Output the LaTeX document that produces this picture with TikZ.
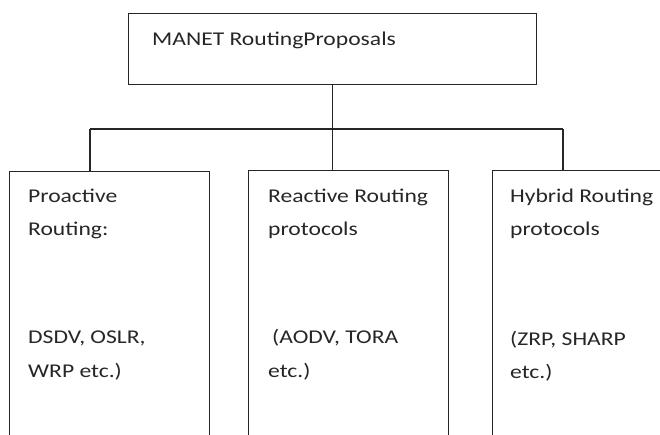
\documentclass[tikz,border=0pt]{standalone}
\usepackage{fontspec}
\setmainfont{Carlito}[FakeStretch=1.21]
\begin{document}
\begin{tikzpicture}[x=1pt,y=-1pt,
  box/.style={draw=black!85, line width=1.3pt, anchor=north west, inner sep=0pt},
  wire/.style={draw=black!85, line width=1.3pt},
  lbl/.style={anchor=base west, inner sep=0pt, font=\fontsize{19.5}{23}\selectfont, text=black!85}]
  \useasboundingbox (0,0) rectangle (660,434);
  \clip (0,0) rectangle (660,434);
  % root box and the three category boxes (run past the lower edge)
  \node[box, minimum width=408pt, minimum height=71pt] (root) at (128,13) {};
  \node[box, minimum width=200pt, minimum height=300pt] (pro) at (9,171) {};
  \node[box, minimum width=200pt, minimum height=300pt] (rea) at (248,170) {};
  \node[box, minimum width=200pt, minimum height=300pt] (hyb) at (492,170) {};
  % labels
  \node[lbl] (t0) at (152,45) {MANET RoutingProposals};
  \node[lbl] (p1) at (28,202) {Proactive};
  \node[lbl] (p2) at (28,235) {Routing:};
  \node[lbl] (p3) at (28,343) {DSDV, OSLR,};
  \node[lbl] (p4) at (28,377) {WRP etc.)};
  \node[lbl] (r1) at (268,202) {Reactive Routing};
  \node[lbl] (r2) at (268,235) {protocols};
  \node[lbl] (r3) at (272,343) {(AODV, TORA};
  \node[lbl] (r4) at (268,377) {etc.)};
  \node[lbl] (h1) at (510,202) {Hybrid Routing};
  \node[lbl] (h2) at (510,235) {protocols};
  \node[lbl] (h3) at (510,345) {(ZRP, SHARP};
  \node[lbl] (h4) at (510,378) {etc.)};
  % tree connectors
  \coordinate (busL) at (90,129);
  \coordinate (busR) at (563,129);
  \coordinate (busM) at (root.south |- busL);
  \draw[wire] (root.south) -- (busM);
  \draw[wire] (busL) -- (busR);
  \draw[wire] (busL) -- (busL |- pro.north);
  \draw[wire] (busM) -- (busM |- rea.north);
  \draw[wire] (busR) -- (busR |- hyb.north);
\end{tikzpicture}
\end{document}
